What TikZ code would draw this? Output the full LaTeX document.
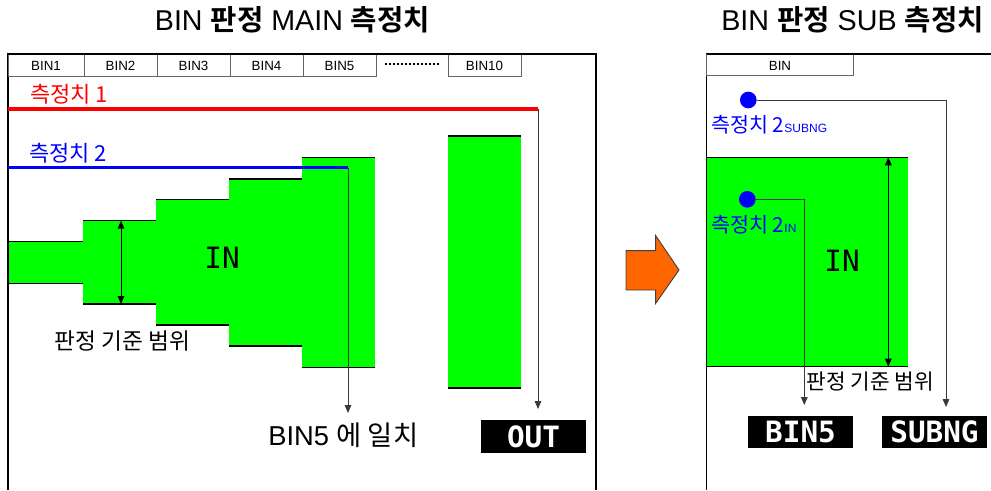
\documentclass[tikz,border=0pt]{standalone}
\usepackage{fontspec}
\setmainfont{Liberation Sans}
\newfontfamily\kr{Noto Sans CJK KR}[BoldFont={Noto Sans CJK KR Bold}]
\newfontfamily\pix{DejaVu Sans Mono}[BoldFont={DejaVu Sans Mono Bold}]
\usetikzlibrary{arrows.meta,calc}
\definecolor{lime}{HTML}{00FF00}
\definecolor{pureblue}{HTML}{0000FF}
\definecolor{purered}{HTML}{FF0000}
\definecolor{orng}{HTML}{FF6600}
\definecolor{connc}{HTML}{3A3A3A}
\tikzset{
  frameline/.style={draw=black, line width=1.1pt},
  tabline/.style={draw=black!60, line width=0.7pt},
  greenfill/.style={fill=lime, draw=none},
  greenedge/.style={draw=black, line width=0.9pt},
  conn/.style={draw=connc, line width=0.7pt, -{Triangle[length=6pt,width=5pt]}},
  dblconn/.style={draw=black, line width=0.7pt, {Triangle[length=6pt,width=5pt]}-{Triangle[length=6pt,width=5pt]}},
  pixbox/.style={fill=black, text=white, inner sep=0pt, font=\pix\bfseries\fontsize{22}{22}\selectfont},
  tablabel/.style={font=\fontsize{10}{12}\selectfont},
  krlabel/.style={font=\kr\fontsize{16.5}{18}\selectfont, inner sep=0pt},
  krsmall/.style={font=\kr\fontsize{15.5}{17}\selectfont, inner sep=0pt},
  dot/.style={circle, fill=pureblue, minimum size=12.5pt, inner sep=0pt},
  biglabel/.style={font=\pix\fontsize{22}{22}\selectfont, inner sep=0pt},
}
\begin{document}
\begin{tikzpicture}[x=0.75pt,y=-0.75pt]
\useasboundingbox (0,0) rectangle (991,490);

% titles
\node (title1) at (292.5,20) {\fontsize{21.5}{23}\selectfont BIN {\kr\bfseries 판정} MAIN {\kr\bfseries 측정치}};
\node (title2) at (852.5,20) {\fontsize{21.5}{23}\selectfont BIN {\kr\bfseries 판정} SUB {\kr\bfseries 측정치}};

% ===== MAIN panel =====
% green steps
\fill[greenfill] (8,241.7) rectangle (83,283.3);
\fill[greenfill] (83,220.7) rectangle (156,304);
\fill[greenfill] (156,199.7) rectangle (229,325);
\fill[greenfill] (229,179) rectangle (302,346);
\fill[greenfill] (302,157.3) rectangle (375,367.3);
\fill[greenfill] (448,136) rectangle (521,388);
\draw[greenedge] (8,241.7) -- (83,241.7) (8,283.3) -- (83,283.3);
\draw[greenedge] (83,220.7) -- (156,220.7) (83,304) -- (156,304);
\draw[greenedge] (156,199.7) -- (229,199.7) (156,325) -- (229,325);
\draw[greenedge] (229,179) -- (302,179) (229,346) -- (302,346);
\draw[greenedge] (302,157.3) -- (375,157.3) (302,367.3) -- (375,367.3);
\draw[greenedge] (448,136) -- (521,136) (448,388) -- (521,388);

% frame
\draw[frameline] (8,490) -- (8,54) -- (596,54) -- (596,490);

% tabs
\draw[tabline] (8,54) rectangle (84,76);
\draw[tabline] (84,54) rectangle (157,76);
\draw[tabline] (157,54) rectangle (230,76);
\draw[tabline] (230,54) rectangle (303,76);
\draw[tabline] (303,54) rectangle (376,76);
\draw[tabline] (448,54) rectangle (521,76);
\draw[frameline] (8,54) -- (596,54);
\node[tablabel] (t1) at (46,66) {BIN1};
\node[tablabel] (t2) at (120.5,66) {BIN2};
\node[tablabel] (t3) at (193.5,66) {BIN3};
\node[tablabel] (t4) at (266.5,66) {BIN4};
\node[tablabel] (t5) at (339.5,66) {BIN5};
\node[tablabel] (t10) at (484.5,66) {BIN10};
\coordinate (dotsL) at (385,64);
\coordinate (dotsR) at (439,64);
\draw[line width=1.3pt, dash pattern=on 1.4pt off 1.6pt] (dotsL) -- (dotsR);

% measurement lines
\coordinate (redL) at (8,109);
\coordinate (redR) at (538,109);
\coordinate (redTip) at (538,409);
\coordinate (blueL) at (8,167.5);
\coordinate (blueR) at (348,167.5);
\coordinate (blueTip) at (348,413);
\draw[conn] (redR) -- (redTip);
\draw[conn] (blueR) -- (blueTip);
\draw[purered, line width=2.3pt] (redL) -- (redR);
\draw[pureblue, line width=2.3pt] (blueL) -- (blueR);
\node[krlabel, text=purered, anchor=west] (m1) at (30,94) {측정치 1};
\node[krlabel, text=pureblue, anchor=west] (m2) at (29,153) {측정치 2};

% range arrow
\coordinate (rgT) at (121,220.7);
\coordinate (rgB) at (121,304);
\draw[dblconn] (rgT) -- (rgB);
\node[krlabel, font=\kr\fontsize{17}{19}\selectfont] (range1) at (122.5,341.5) {판정 기준 범위};
\node[biglabel] (in1) at (222,258) {IN};

% result labels
\node[anchor=west, inner sep=0pt, font=\fontsize{20.5}{22}\selectfont] (match) at (268,435) {BIN5 {\kr 에 일치}};
\node[pixbox, minimum width=78.75pt, minimum height=24.5pt] (out) at (533.5,436.4) {OUT};

% ===== transition arrow =====
\draw[fill=orng, draw=black!75, line width=0.7pt] (626,250.7) -- (655.7,250.7) -- (655.7,235.7) -- (679,270) -- (655.7,303.3) -- (655.7,290) -- (626,290) -- cycle;
\coordinate (arrowC) at (652,270);

% ===== SUB panel =====
\fill[greenfill] (706.7,157.3) rectangle (908.3,366.7);
\draw[greenedge] (706.7,157.3) -- (908.3,157.3) (706.7,366.7) -- (908.3,366.7);
\draw[frameline] (706.7,490) -- (706.7,54) -- (991,54);
\draw[tabline] (706.7,54) rectangle (853.3,75);
\draw[frameline] (706.7,54) -- (991,54);
\node[tablabel] (tb) at (780,65.5) {BIN};

\coordinate (subTip) at (946,407);
\coordinate (inTip) at (804.3,405);
\coordinate (rg2T) at (888.3,157.3);
\coordinate (rg2B) at (888.3,366.7);
\node[dot] (d1) at (748.3,100) {};
\node[dot] (d2) at (747.3,199.3) {};
\draw[conn] (d1.east) -| (subTip);
\draw[conn] (d2.east) -| (inTip);
\draw[dblconn] (rg2T) -- (rg2B);

\node[krsmall, text=pureblue, anchor=west] (s1) at (711,125) {측정치 2{\rmfamily\fontsize{9}{9}\selectfont SUBNG}};
\node[krsmall, text=pureblue, anchor=west] (s2) at (711,225) {측정치 2{\rmfamily\fontsize{9}{9}\selectfont IN}};
\node[biglabel] (in2) at (842,260.5) {IN};
\node[krsmall, font=\kr\fontsize{16}{18}\selectfont, anchor=west] (range2) at (806.5,381.7) {판정 기준 범위};

\node[pixbox, minimum width=78.3pt, minimum height=24.2pt] (bin5) at (800.5,432.2) {BIN5};
\node[pixbox, minimum width=78.3pt, minimum height=24.2pt] (subng) at (934.5,432.2) {SUBNG};
\end{tikzpicture}
\end{document}
